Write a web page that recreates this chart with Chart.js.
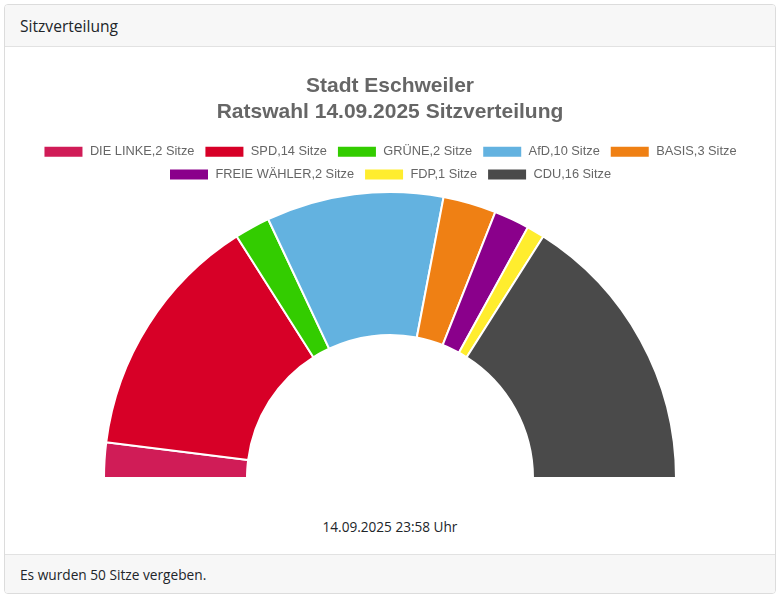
<!DOCTYPE html>
<html lang="de">
<head>
    <meta charset="UTF-8">
    <title>Sitzverteilung</title>
    <style>
        html, body {
            margin: 0;
            padding: 0;
            background: #fff;
        }
        body {
            font-family: "Open Sans", "Noto Sans", sans-serif;
            color: #212529;
            width: 780px;
            height: 598px;
            position: relative;
        }
        .card {
            position: absolute;
            left: 4px;
            top: 4px;
            width: 770px;
            height: 588px;
            border: 1px solid #dcdcdc;
            border-radius: 4px;
            overflow: hidden;
        }
        .card-header {
            height: 41px;
            line-height: 42px;
            padding-left: 15px;
            background: #f7f7f7;
            border-bottom: 1px solid #e2e2e2;
            font-size: 15.6px;
        }
        .card-body {
            position: relative;
            height: 507px;
        }
        .chart-box {
            position: absolute;
            left: 0;
            top: 15px;
            width: 770px;
            height: 417px;
        }
        .stand {
            position: absolute;
            left: 0;
            width: 100%;
            top: 470px;
            text-align: center;
            font-size: 13.6px;
        }
        .card-footer {
            height: 39px;
            line-height: 40px;
            padding-left: 15px;
            background: #f7f7f7;
            border-top: 1px solid #e2e2e2;
            font-size: 13.7px;
        }
    </style>
    <script src="https://cdn.jsdelivr.net/npm/chart.js"></script>
</head>
<body>
<div class="card">
    <div class="card-header">Sitzverteilung</div>
    <div class="card-body">
        <div class="chart-box"><canvas id="sitze"></canvas></div>
        <div class="stand">14.09.2025 23:58 Uhr</div>
    </div>
    <div class="card-footer">Es wurden 50 Sitze vergeben.</div>
</div>

<script>
    // Parteien und Sitze
    const parteien = ['DIE LINKE', 'SPD', 'GRÜNE', 'AfD', 'BASIS', 'FREIE WÄHLER', 'FDP', 'CDU'];
    const sitze = [2, 14, 2, 10, 3, 2, 1, 16];
    const farben = ['#d01c57', '#d70027', '#33cc00', '#63b2e0', '#ef8014', '#8a008b', '#ffed2e', '#4a4a4a'];

    const labels = parteien.map((p, i) => `${p},${sitze[i]} Sitze`);

    new Chart(document.getElementById('sitze'), {
        type: 'doughnut',
        data: {
            labels: labels,
            datasets: [{
                data: sitze,
                backgroundColor: farben,
                borderColor: '#fff',
                borderWidth: 2,
                hoverOffset: 0
            }]
        },
        options: {
            responsive: true,
            maintainAspectRatio: false,
            animation: false,
            rotation: -90,
            circumference: 180,
            cutout: '50%',
            layout: { padding: { top: 2 } },
            plugins: {
                title: {
                    display: true,
                    text: ['Stadt Eschweiler', 'Ratswahl 14.09.2025 Sitzverteilung'],
                    color: '#666',
                    font: { family: 'Arial, "Liberation Sans", sans-serif', size: 21, weight: 'bold', lineHeight: 1.2 },
                    padding: { top: 10, bottom: 11 }
                },
                legend: {
                    position: 'top',
                    labels: {
                        color: '#666',
                        boxWidth: 40,
                        boxHeight: 12,
                        padding: 10,
                        font: { family: 'Arial, "Liberation Sans", sans-serif', size: 12.8 }
                    }
                },
                tooltip: { enabled: false }
            }
        }
    });
</script>
</body>
</html>
